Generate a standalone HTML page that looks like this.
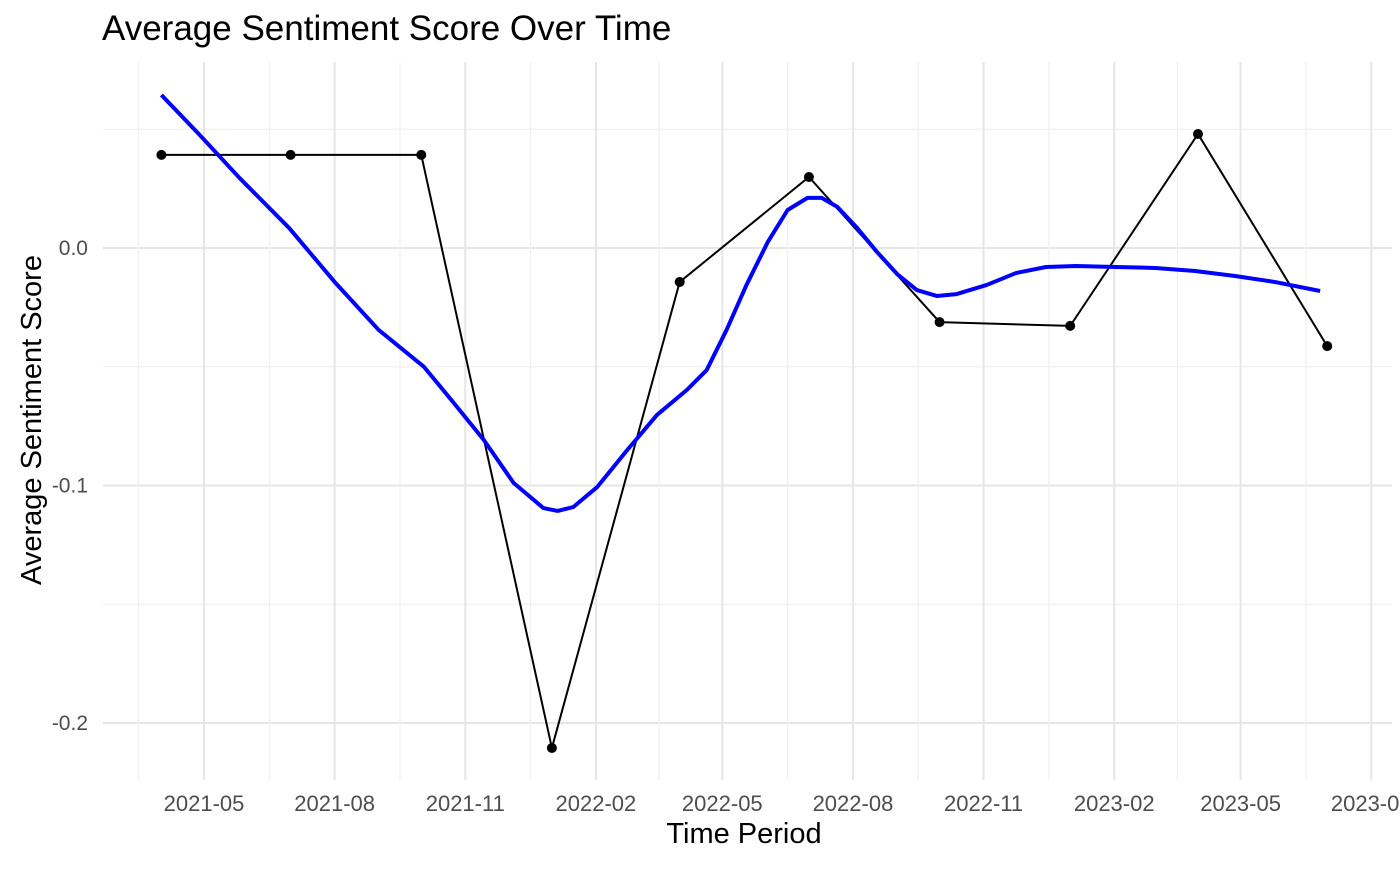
<!DOCTYPE html>
<html><head><meta charset="utf-8"><style>
body{margin:0;background:#fff;}
svg text{font-family:"Liberation Sans",Arial,sans-serif;}
</style></head><body>
<svg id="chart" width="1400" height="865" xmlns="http://www.w3.org/2000/svg">
<text x="102" y="40" font-size="35" fill="#000">Average Sentiment Score Over Time</text>
<text x="744" y="843" font-size="29" text-anchor="middle" fill="#000">Time Period</text>
<text transform="translate(41,420) rotate(-90)" font-size="29" text-anchor="middle" fill="#000">Average Sentiment Score</text>
<g id="grid"></g>
<g id="marks"></g>
</svg>
<script>
const pointDates=["2021-04-01","2021-07-01","2021-10-01","2022-01-01","2022-04-01","2022-07-01","2022-10-01","2023-01-01","2023-04-01","2023-07-01"];
const pointValues=[0.0392,0.0392,0.0392,-0.2105,-0.0143,0.0299,-0.0312,-0.0328,0.048,-0.0413];
const smoothDates=["2021-04-01","2021-04-28","2021-05-26","2021-06-30","2021-08-01","2021-09-01","2021-10-03","2021-10-24","2021-11-14","2021-12-05","2021-12-26","2022-01-05","2022-01-16","2022-02-02","2022-02-23","2022-03-16","2022-04-06","2022-04-20","2022-05-04","2022-05-18","2022-06-02","2022-06-16","2022-06-30","2022-07-10","2022-07-21","2022-08-04","2022-08-18","2022-09-01","2022-09-15","2022-09-29","2022-10-13","2022-11-03","2022-11-24","2022-12-15","2023-01-05","2023-02-02","2023-03-02","2023-03-30","2023-04-27","2023-05-25","2023-06-26"];
const smoothValues=[0.0644,0.0476,0.0295,0.0084,-0.0143,-0.0345,-0.0501,-0.0653,-0.0808,-0.0989,-0.1095,-0.1107,-0.1091,-0.1006,-0.0851,-0.0703,-0.0598,-0.0514,-0.0345,-0.0156,0.0025,0.016,0.0211,0.0211,0.0173,0.0084,-0.0017,-0.0109,-0.0177,-0.0202,-0.0194,-0.0156,-0.0105,-0.008,-0.0076,-0.008,-0.0084,-0.0097,-0.0118,-0.0143,-0.0181];
const xTickLabels=["2021-05","2021-08","2021-11","2022-02","2022-05","2022-08","2022-11","2023-02","2023-05","2023-08"];
const yTickValues=[0.0,-0.1,-0.2];
const yTickLabels=["0.0","-0.1","-0.2"];
const NS="http://www.w3.org/2000/svg";
const ORIGIN=Date.UTC(2021,4,1);
function xs(d){const p=d.split("-").map(Number);const t=Date.UTC(p[0],p[1]-1,p[2]||1);return 204+(t-ORIGIN)/86400000*1.42;}
function ys(v){return 248-v*2375;}
function el(tag,attrs,parent){const e=document.createElementNS(NS,tag);for(const k in attrs)e.setAttribute(k,attrs[k]);parent.appendChild(e);return e;}
const gridG=document.getElementById("grid"),marksG=document.getElementById("marks");
const pTop=62,pBot=780,pLeft=103,pRight=1392;
[0.05,-0.05,-0.15].forEach(v=>{const l=el("line",{x1:pLeft,x2:pRight,y1:ys(v),y2:ys(v),stroke:"#f0f0f0","stroke-width":1.2},gridG);

});
yTickValues.forEach((v,i)=>{const l=el("line",{x1:pLeft,x2:pRight,y1:ys(v),y2:ys(v),stroke:"#e6e6e6","stroke-width":2},gridG);


const t=el("text",{x:88,y:ys(v)+7,"font-size":21,fill:"#4d4d4d","text-anchor":"end"},gridG);t.textContent=yTickLabels[i];

});
const majX=xTickLabels.map(s=>xs(s+"-01"));
for(let i=0;i<majX.length;i++){
 const prev=i===0?majX[0]-(majX[1]-majX[0]):majX[i-1];
 const mx=(prev+majX[i])/2;
 const m=el("line",{x1:mx,x2:mx,y1:pTop,y2:pBot,stroke:"#f0f0f0","stroke-width":1.2},gridG);
 
 
 const l=el("line",{x1:majX[i],x2:majX[i],y1:pTop,y2:pBot,stroke:"#e6e6e6","stroke-width":2},gridG);
 
 
 const t=el("text",{x:majX[i],y:811,"font-size":22,fill:"#4d4d4d","text-anchor":"middle"},gridG);t.textContent=xTickLabels[i];
 
 
}
const lp=el("polyline",{points:pointDates.map((d,i)=>xs(d)+","+ys(pointValues[i])).join(" "),fill:"none",stroke:"#000","stroke-width":2},marksG);


const sm=el("polyline",{points:smoothDates.map((d,i)=>xs(d)+","+ys(smoothValues[i])).join(" "),fill:"none",stroke:"#0000ff","stroke-width":4,"stroke-linejoin":"round"},marksG);


pointDates.forEach((d,i)=>{const c=el("circle",{cx:xs(d),cy:ys(pointValues[i]),r:5,fill:"#000"},marksG);

});
</script>
</body></html>
